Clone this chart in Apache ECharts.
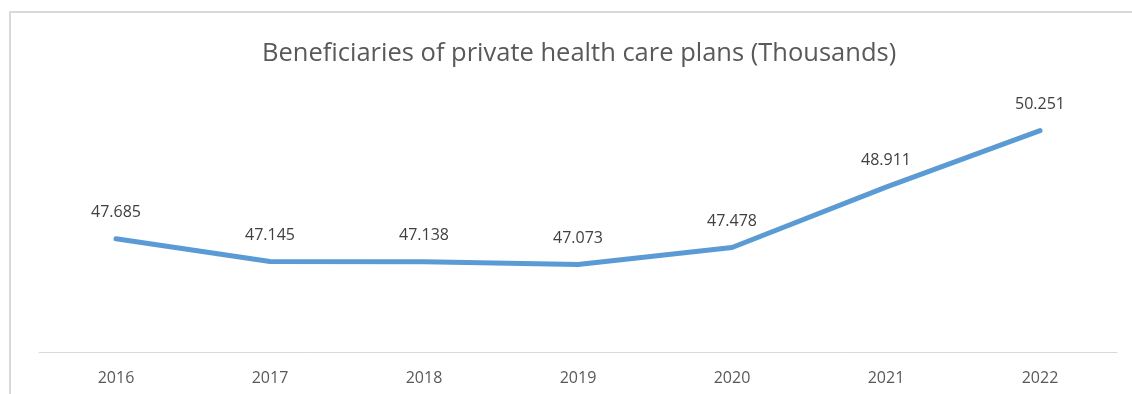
<!DOCTYPE html>
<html>
<head>
<meta charset="utf-8">
<script src="https://cdn.jsdelivr.net/npm/echarts@6/dist/echarts.min.js"></script>
<style>
  html, body { margin: 0; padding: 0; background: #fff; overflow: hidden; }
  #frame { position: absolute; left: 9px; top: 11px; width: 1140px; height: 400px;
           border-top: 2px solid #d9d9d9; border-left: 2px solid #d9d9d9; }
  #chart { position: absolute; left: 0; top: 0; width: 1132px; height: 394px; }
</style>
</head>
<body>
<div id="frame"></div>
<div id="chart"></div>
<script>
// beneficiaries, thousands
var years = ['2016', '2017', '2018', '2019', '2020', '2021', '2022'];
var beneficiaries = [47.685, 47.145, 47.138, 47.073, 47.478, 48.911, 50.251];
var chartTitle = 'Beneficiaries of private health care plans (Thousands)';

var textFont = '"Open Sans", "Liberation Sans", sans-serif';

var option = {
    animation: false,
    title: {
        text: chartTitle,
        left: 257,
        top: 36,
        textStyle: { fontFamily: textFont, fontSize: 25.5, fontWeight: 'normal', color: '#595959' }
    },
    grid: { left: 39, right: 15, top: 99, bottom: 42 },
    xAxis: {
        type: 'category',
        data: years,
        boundaryGap: true,
        axisLine: { lineStyle: { color: '#d9d9d9', width: 1 } },
        axisTick: { show: false },
        axisLabel: { fontFamily: textFont, fontSize: 16, color: '#595959', margin: 18 }
    },
    yAxis: {
        type: 'value',
        min: 45,
        max: 51,
        show: false,
        splitLine: { show: false }
    },
    series: [{
        type: 'line',
        data: beneficiaries,
        symbol: 'circle',
        symbolSize: 1,
        showSymbol: true,
        lineStyle: { color: '#5B9BD5', width: 5, cap: 'round', join: 'round' },
        itemStyle: { color: '#5B9BD5' },
        label: {
            show: true,
            position: 'top',
            distance: 18,
            fontFamily: textFont,
            fontSize: 16,
            color: '#404040',
            formatter: function (p) { return p.value.toFixed(3); }
        }
    }]
};

var myChart = echarts.init(document.getElementById('chart'));
myChart.setOption(option);
</script>
</body>
</html>
